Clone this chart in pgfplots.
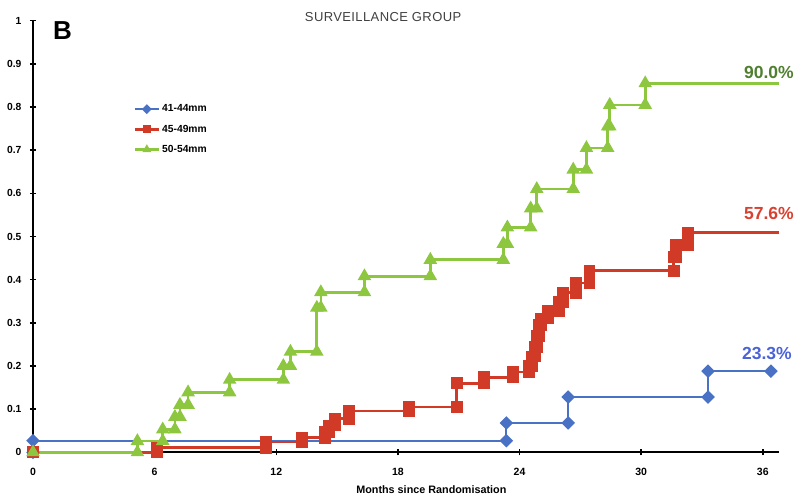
\documentclass[border=0pt]{standalone}
\usepackage{pgfplots}
\pgfplotsset{compat=1.18}
\usepackage{fontspec}
\setmainfont{Liberation Sans}
\definecolor{gline}{HTML}{8DC63F}
\definecolor{rline}{HTML}{D13A27}
\definecolor{bline}{HTML}{4A72C4}
\definecolor{glab}{HTML}{4F7F2F}
\definecolor{rlab}{HTML}{D9412F}
\definecolor{blab}{HTML}{4B63D8}
\begin{document}
\begin{tikzpicture}
\useasboundingbox (0,0) rectangle (800pt,500pt);
\begin{axis}[
  at={(33pt,47.7pt)}, anchor=south west,
  scale only axis, width=746pt, height=431.6pt,
  xmin=0, xmax=36.8, ymin=0, ymax=1,
  axis x line=bottom, axis y line=left,
  axis line style={-, line width=1.7pt},
  clip=false,
  xtick={0,6,12,18,24,30,36},
  ytick={0,0.1,0.2,0.3,0.4,0.5,0.6,0.7,0.8,0.9,1},
  yticklabels={0,0.1,0.2,0.3,0.4,0.5,0.6,0.7,0.8,0.9,1},
  tick align=center, major tick length=6pt,
  tick style={line width=1.5pt, black},
  /pgf/number format/assume math mode=true,
  ticklabel style={font=\bfseries\fontsize{10.3}{12}\selectfont},
  xticklabel style={yshift=-9pt, font=\bfseries\fontsize{10.5}{12}\selectfont},
  yticklabel style={xshift=-5pt},
  xlabel={Months since Randomisation},
  xlabel style={font=\bfseries\fontsize{10.8}{12}\selectfont, at={(axis description cs:0.534,0)}, anchor=center, yshift=-37pt},
  legend style={at={(axis cs:4.95,0.81)}, anchor=north west, draw=none, fill=none,
    font=\bfseries\fontsize{10.3}{11}\selectfont, row sep=7.5pt, inner sep=0pt, cells={anchor=west},
    /tikz/every even column/.append style={column sep=1pt}},
  legend image code/.code={\draw[mark repeat=2,mark phase=2,mark size=2.6pt] plot coordinates {(0cm,0cm)(0.42cm,0cm)(0.84cm,0cm)};},
]
\addplot[bline, line width=1.8pt, mark=square*, mark size=3.9pt, mark options={rotate=45}] coordinates {
(0,0) (0,0.027)
(23.35,0.027) (23.35,0.068)
(26.4,0.068) (26.4,0.128)
(33.3,0.128) (33.3,0.188)
(36.4,0.188)
};
\addlegendentry{41-44mm}
\addplot[rline, line width=2.7pt, mark=square*, mark size=4.6pt] coordinates {
(0,0)
(6.1,0) (6.1,0.011)
(11.5,0.011) (11.5,0.024)
(13.25,0.024) (13.25,0.034)
(14.4,0.034) (14.4,0.046)
(14.6,0.046) (14.6,0.062)
(14.9,0.062) (14.9,0.078)
(15.6,0.078) (15.6,0.096)
(18.55,0.096) (18.55,0.105)
(20.9,0.105) (20.9,0.16)
(22.25,0.16) (22.25,0.174)
(23.7,0.174) (23.7,0.186)
(24.45,0.186) (24.45,0.2)
(24.6,0.2) (24.6,0.222)
(24.75,0.222) (24.75,0.245)
(24.85,0.245) (24.85,0.27)
(24.95,0.27) (24.95,0.295)
(25.05,0.295) (25.05,0.31)
(25.4,0.31) (25.4,0.328)
(25.95,0.328) (25.95,0.348)
(26.15,0.348) (26.15,0.37)
(26.8,0.37) (26.8,0.392)
(27.45,0.392) (27.45,0.421)
(31.6,0.421) (31.6,0.453)
(31.7,0.453) (31.7,0.48)
(32.3,0.48) (32.3,0.509)
};
\addlegendentry{45-49mm}
\addplot[gline, line width=2.7pt, mark=triangle*, mark size=5.2pt] coordinates {
(0,0)
(5.15,0) (5.15,0.026)
(6.4,0.026) (6.4,0.053)
(7.0,0.053) (7.0,0.082)
(7.25,0.082) (7.25,0.11)
(7.65,0.11) (7.65,0.139)
(9.7,0.139) (9.7,0.168)
(12.35,0.168) (12.35,0.2)
(12.7,0.2) (12.7,0.233)
(14.0,0.233) (14.0,0.335)
(14.2,0.335) (14.2,0.371)
(16.35,0.371) (16.35,0.408)
(19.6,0.408) (19.6,0.446)
(23.2,0.446) (23.2,0.483)
(23.4,0.483) (23.4,0.521)
(24.55,0.521) (24.55,0.565)
(24.85,0.565) (24.85,0.61)
(26.65,0.61) (26.65,0.655)
(27.3,0.655) (27.3,0.705)
(28.35,0.705) (28.35,0.755)
(28.45,0.755) (28.45,0.805)
(30.2,0.805) (30.2,0.855)
};
\addlegendentry{50-54mm}
\addplot[rline, line width=2.7pt, forget plot] coordinates {(32.3,0.509) (36.8,0.509)};
\addplot[gline, line width=2.7pt, forget plot] coordinates {(30.2,0.855) (36.8,0.855)};
\node[anchor=east, font=\bfseries\fontsize{17.5}{19}\selectfont, text=glab] at (axis cs:37.7,0.881) {90.0\%};
\node[anchor=east, font=\bfseries\fontsize{17.5}{19}\selectfont, text=rlab] at (axis cs:37.7,0.554) {57.6\%};
\node[anchor=east, font=\bfseries\fontsize{17.5}{19}\selectfont, text=blab] at (axis cs:37.6,0.230) {23.3\%};
\node[font=\fontsize{13}{15}\selectfont\addfontfeatures{LetterSpace=3}, text=black!75] at (axis cs:17.27,1.008) {SURVEILLANCE GROUP};
\node[font=\bfseries\fontsize{26}{28}\selectfont] at (axis cs:1.45,0.978) {B};
\end{axis}
\end{tikzpicture}
\end{document}
